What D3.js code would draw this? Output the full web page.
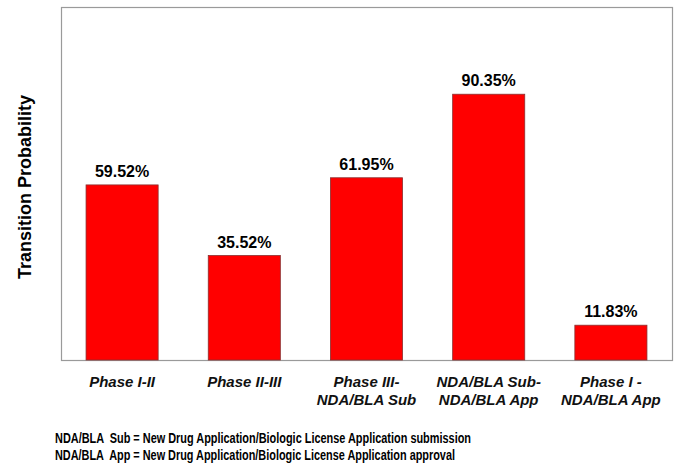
<!DOCTYPE html>
<html><head><meta charset="utf-8">
<script src="https://cdn.jsdelivr.net/npm/d3@7"></script>
<style>body{margin:0;background:#fff;}</style>
</head><body>
<script>
const categories = [["Phase I-II"],["Phase II-III"],["Phase III-","NDA/BLA Sub"],["NDA/BLA Sub-","NDA/BLA App"],["Phase I -","NDA/BLA App"]];
const values = [59.52, 35.52, 61.95, 90.35, 11.83];
const valueLabels = ["59.52%","35.52%","61.95%","90.35%","11.83%"];
const footnotes = ["NDA/BLA  Sub = New Drug Application/Biologic License Application submission","NDA/BLA  App = New Drug Application/Biologic License Application approval"];
const footnoteWidths = [416, 400];

const W=677,H=466;
const m={l:61,t:7,r:672,b:360};
const svg=d3.select("body").append("svg").attr("width",W).attr("height",H);
const x=d3.scaleBand().domain(d3.range(values.length)).range([m.l,m.r]).paddingInner(0.41).paddingOuter(0.205);
const y=d3.scaleLinear().domain([0,120]).range([m.b,m.t]);

svg.append("rect").attr("x",m.l+0.5).attr("y",m.t+0.5).attr("width",m.r-m.l).attr("height",m.b-m.t)
 .attr("fill","none").attr("stroke","#9a9a9a").attr("stroke-width",1.2);

svg.selectAll("rect.bar").data(values).join("rect").attr("class","bar")
 .attr("x",(d,i)=>x(i)).attr("width",x.bandwidth())
 .attr("y",d=>y(d)).attr("height",d=>y(0)-y(d))
 .attr("fill","#ff0000").attr("stroke","#8a3030").attr("stroke-width",0.8);

svg.selectAll("text.val").data(values).join("text").attr("class","val")
 .attr("x",(d,i)=>x(i)+x.bandwidth()/2).attr("y",d=>y(d)-8)
 .attr("text-anchor","middle").attr("font-family","Liberation Sans, Arial, sans-serif")
 .attr("font-weight","bold").attr("font-size",16).attr("fill","#000")
 .text((d,i)=>valueLabels[i]);

const xl=svg.selectAll("text.cat").data(categories).join("text").attr("class","cat")
 .attr("x",(d,i)=>x(i)+x.bandwidth()/2).attr("y",387)
 .attr("text-anchor","middle").attr("font-family","Liberation Sans, Arial, sans-serif")
 .attr("font-weight","bold").attr("font-style","italic").attr("font-size",15).attr("fill","#111");
xl.each(function(d,i){
  const t=d3.select(this);
  d.forEach((line,j)=>t.append("tspan").attr("x",x(i)+x.bandwidth()/2).attr("dy",j?18:0).text(line));
});

svg.append("text").attr("transform","translate(31,187) rotate(-90)")
 .attr("text-anchor","middle").attr("font-family","Liberation Sans, Arial, sans-serif")
 .attr("font-weight","bold").attr("font-size",18).attr("fill","#000").text("Transition Probability");

svg.selectAll("text.fn").data(footnotes).join("text").attr("class","fn")
 .attr("x",55).attr("y",(d,i)=>443+i*17)
 .attr("font-family","Liberation Sans Narrow, Arial Narrow, Liberation Sans, sans-serif")
 .attr("font-weight","bold").attr("font-size",15).attr("fill","#000")
 .attr("textLength",(d,i)=>footnoteWidths[i]).attr("lengthAdjust","spacingAndGlyphs")
 .attr("xml:space","preserve").style("white-space","pre").text(d=>d);
</script>
</body></html>
